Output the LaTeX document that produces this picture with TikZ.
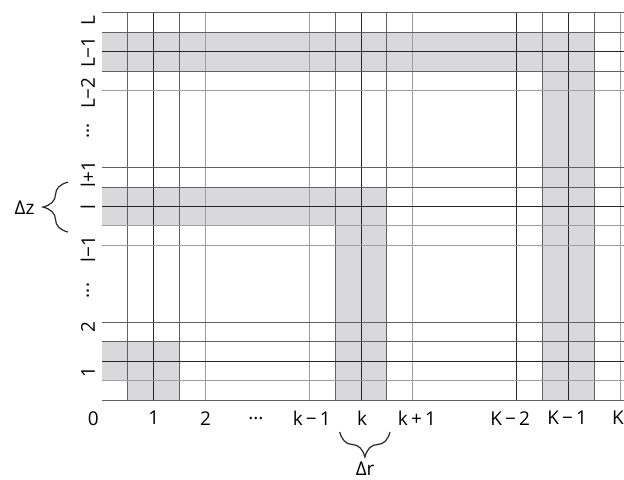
\documentclass[tikz,border=0pt]{standalone}
\usepackage{fontspec}
\setmainfont{Open Sans}
\usetikzlibrary{decorations.pathreplacing}
\definecolor{bandgray}{RGB}{217,217,219}
\tikzset{
  mainline/.style={draw=black!85, line width=1pt},
  bandline/.style={draw=black!62, line width=1pt},
  thinline/.style={draw=black!38, line width=1pt},
  band/.style={fill=bandgray, draw=none},
  tick/.style={font=\fontsize{19}{22}\selectfont, inner sep=0pt},
  ztick/.style={tick, rotate=90},
  gapbrace/.style={draw=black!85, line width=1.2pt, decorate,
                   decoration={brace, amplitude=25pt}},
}
\begin{document}
\begin{tikzpicture}[x=51.8pt, y=38.7pt]
\useasboundingbox (-1.969,-2.041) rectangle (10.077,10.336);

% shaded cells
\fill[band] (0,0.5) rectangle (1.5,1.5);
\fill[band] (0.5,0) rectangle (1.5,1.5);
\fill[band] (0,4.5) rectangle (5.5,5.5);
\fill[band] (4.5,0) rectangle (5.5,5.5);
\fill[band] (0,8.5) rectangle (9.5,9.5);
\fill[band] (8.5,0) rectangle (9.5,9.5);

% grid lines in r
\foreach \r/\s in {0.5/bandline, 1/mainline, 1.5/bandline, 2/thinline,
                   4/thinline, 4.5/bandline, 5/mainline, 5.5/bandline, 6/thinline,
                   8/mainline, 8.5/bandline, 9/mainline, 9.5/bandline, 10/thinline}
  \draw[\s] (\r,0) -- (\r,10);

% grid lines in z
\foreach \z/\s in {0/bandline, 0.5/thinline, 1/mainline, 1.5/bandline, 2/bandline,
                   4/thinline, 4.5/thinline, 5/mainline, 5.5/bandline, 6/bandline,
                   8/thinline, 8.5/bandline, 9/mainline, 9.5/bandline, 10/bandline}
  \draw[\s] (0,\z) -- (10.077,\z);

% r labels
\node[tick] (r0)  at (-0.17,-0.47) {0};
\node[tick] (r1)  at (1,-0.47) {1};
\node[tick] (r2)  at (2,-0.47) {2};
\node[tick] (rdots) at (2.97,-0.47) {...};
\node[tick] (rkm) at (4.05,-0.47) {k\,−\,1};
\node[tick] (rk)  at (5.02,-0.47) {k};
\node[tick] (rkp) at (6.08,-0.47) {k\,+\,1};
\node[tick] (rKmm) at (7.88,-0.47) {K\,−\,2};
\node[tick] (rKm) at (8.98,-0.47) {K\,−\,1};
\node[tick] (rK)  at (9.96,-0.47) {K};

% z labels
\node[ztick] (z1)  at (-0.27,0.72) {1};
\node[ztick] (z2)  at (-0.27,1.89) {2};
\node[ztick] (zdots) at (-0.27,2.83) {...};
\node[ztick] (zlm) at (-0.27,3.9) {l−1};
\node[ztick] (zl)  at (-0.27,4.99) {l};
\node[ztick] (zlp) at (-0.27,5.84) {l+1};
\node[ztick] (zdots2) at (-0.27,6.95) {...};
\node[ztick] (zLmm) at (-0.27,7.93) {L−2};
\node[ztick] (zLm) at (-0.27,8.99) {L−1};
\node[ztick] (zL)  at (-0.27,9.81) {L};

% cell sizes
\coordinate (dzlo) at (-0.656,4.34);
\coordinate (dzhi) at (-0.656,5.63);
\draw[gapbrace] (dzlo) -- (dzhi);
\node[tick, anchor=east] (dz) at (-1.30,4.96) {Δz};

\coordinate (drlo) at (5.56,-0.827);
\coordinate (drhi) at (4.59,-0.827);
\draw[gapbrace] (drlo) -- (drhi);
\node[tick, anchor=base] (dr) at (5.08,-1.95) {Δr};
\end{tikzpicture}
\end{document}
